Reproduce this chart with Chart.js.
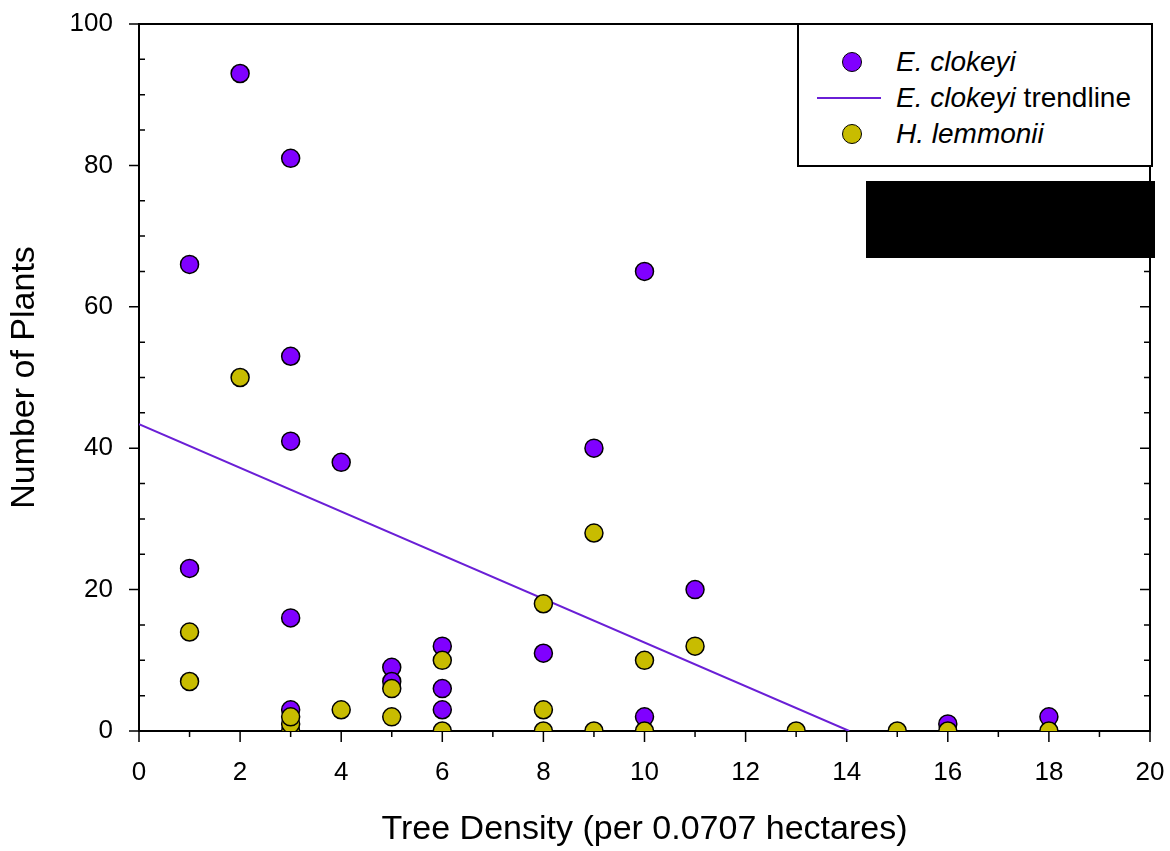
<!DOCTYPE html>
<html>
<head>
<meta charset="utf-8">
<script src="https://cdn.jsdelivr.net/npm/chart.js@4/dist/chart.umd.min.js"></script>
<style>
  body { margin: 0; background: #fff; }
  #wrap { position: relative; width: 1170px; height: 851px; }
  #legend {
    position: absolute; left: 797px; top: 23px; width: 352px; height: 140px;
    border: 2px solid #000; background: #fff;
    font-family: "Liberation Sans", Arial, sans-serif; font-size: 28px; color: #000;
  }
  .row { position: absolute; left: 0; height: 36px; line-height: 36px; }
  .row .txt { position: absolute; left: 97px; white-space: nowrap; }
  .dot { position: absolute; left: 43px; top: 8px; width: 18px; height: 18px; border-radius: 50%; border: 1.5px solid #000; }
  .ln { position: absolute; left: 18px; top: 17px; width: 64px; height: 2px; background: #6a1fd6; }
  #redact { position: absolute; left: 866px; top: 181px; width: 289px; height: 77px; background: #000; }
</style>
</head>
<body>
<div id="wrap">
  <canvas id="myChart" width="1170" height="851"></canvas>
  <div id="legend">
    <div class="row" style="top:19px"><span class="dot" style="background:#8000ff"></span><span class="txt"><i>E. clokeyi</i></span></div>
    <div class="row" style="top:55px"><span class="ln"></span><span class="txt"><i>E. clokeyi</i> trendline</span></div>
    <div class="row" style="top:91px"><span class="dot" style="background:#c8bc00"></span><span class="txt"><i>H. lemmonii</i></span></div>
  </div>
  <div id="redact"></div>
</div>
<script>
// E. clokeyi counts
const clokeyiX = [1, 1, 2, 3, 3, 3, 3, 3, 4, 5, 5, 6, 6, 6, 8, 9, 10, 10, 11, 16, 18]
const clokeyiY = [66, 23, 93, 81, 53, 41, 16, 3, 38, 9, 7, 12, 6, 3, 11, 40, 65, 2, 20, 1, 2]
// H. lemmonii counts
const lemmoniiX = [1, 1, 2, 3, 3, 3, 4, 5, 5, 6, 6, 8, 8, 8, 9, 9, 10, 10, 11, 13, 15, 16, 18]
const lemmoniiY = [14, 7, 50, 0, 1, 2, 3, 6, 2, 10, 0, 18, 3, 0, 28, 0, 10, 0, 12, 0, 0, 0, 0]
// trendline ends
const trendX = [0, 14.05]
const trendY = [43.4, 0]

const xTicks = [0, 2, 4, 6, 8, 10, 12, 14, 16, 18, 20]
const yTicks = [0, 20, 40, 60, 80, 100]

const toPts = (xs, ys) => xs.map((x, i) => ({x: x, y: ys[i]}))
const font = "Liberation Sans, Arial, sans-serif"

// axis frame + ticks like the original plot
const frame = {
  id: 'frame',
  beforeDatasetsDraw(chart) {
    const {ctx, chartArea: a, scales: {x, y}} = chart
    ctx.save()
    ctx.strokeStyle = '#000'
    ctx.lineWidth = 2
    ctx.beginPath()
    ctx.rect(a.left, a.top, a.right - a.left, a.bottom - a.top)
    ctx.stroke()
    ctx.lineWidth = 1.5
    ctx.beginPath()
    for (let v = 0; v <= 100; v += 5) {
      const py = y.getPixelForValue(v)
      if (v % 20 === 0) {
        ctx.moveTo(a.left - 10, py); ctx.lineTo(a.left, py)
        ctx.moveTo(a.right - 10, py); ctx.lineTo(a.right, py)
      } else {
        ctx.moveTo(a.left, py); ctx.lineTo(a.left + 6, py)
        ctx.moveTo(a.right - 6, py); ctx.lineTo(a.right, py)
      }
    }
    for (let v = 0; v <= 20; v += 1) {
      const px = x.getPixelForValue(v)
      const len = v % 2 === 0 ? 11 : 6
      ctx.moveTo(px, a.bottom); ctx.lineTo(px, a.bottom + len)
    }
    ctx.stroke()
    ctx.restore()
  }
}

new Chart(document.getElementById('myChart'), {
  type: 'scatter',
  data: {
    datasets: [
      {
        label: 'H. lemmonii',
        data: toPts(lemmoniiX, lemmoniiY),
        backgroundColor: '#c8bc00',
        borderColor: '#000',
        borderWidth: 1.5,
        pointRadius: 9,
        order: 0
      },
      {
        label: 'E. clokeyi',
        data: toPts(clokeyiX, clokeyiY),
        backgroundColor: '#8000ff',
        borderColor: '#000',
        borderWidth: 1.5,
        pointRadius: 9,
        order: 1
      },
      {
        type: 'line',
        label: 'E. clokeyi trendline',
        data: toPts(trendX, trendY),
        borderColor: '#6a1fd6',
        borderWidth: 2,
        pointRadius: 0,
        fill: false,
        order: 2
      }
    ]
  },
  options: {
    responsive: false,
    animation: false,
    layout: { padding: { top: 24, right: 20, left: 0, bottom: 0 } },
    plugins: { legend: { display: false }, tooltip: { enabled: false } },
    scales: {
      x: {
        type: 'linear', min: 0, max: 20,
        afterFit: (s) => { s.height = 120 },
        afterBuildTicks: (s) => { s.ticks = xTicks.map(v => ({value: v})) },
        grid: { display: false, drawTicks: true, tickLength: 26 },
        border: { display: false },
        ticks: { color: '#000', padding: 0, font: { family: font, size: 26 } },
        title: {
          display: true, text: 'Tree Density (per 0.0707 hectares)', color: '#000',
          padding: { top: 0, bottom: 1 }, font: { family: font, size: 34 }
        }
      },
      y: {
        min: 0, max: 100,
        afterFit: (s) => { s.width = 139 },
        afterBuildTicks: (s) => { s.ticks = yTicks.map(v => ({value: v})) },
        grid: { display: false, drawTicks: true, tickLength: 26 },
        border: { display: false },
        ticks: { color: '#000', padding: 0, font: { family: font, size: 26 } },
        title: {
          display: true, text: 'Number of Plants', color: '#000',
          padding: { top: 4, bottom: 0 }, font: { family: font, size: 34 }
        }
      }
    }
  },
  plugins: [frame]
})
</script>
</body>
</html>
